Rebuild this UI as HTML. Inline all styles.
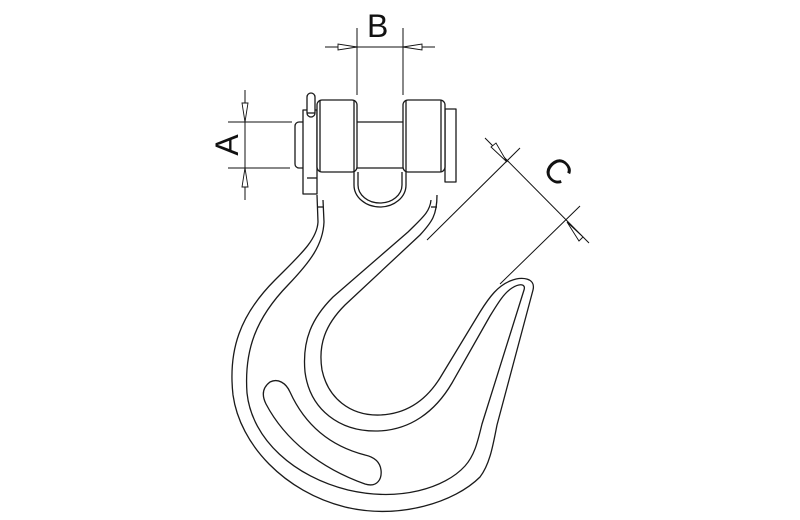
<!DOCTYPE html>
<html><head><meta charset="utf-8"><style>
html,body{margin:0;padding:0;background:#fff;width:800px;height:520px;overflow:hidden;position:relative}
svg{display:block;position:absolute;left:0;top:0}
text{font-family:"Liberation Sans",sans-serif;fill:#111}
#c{position:absolute;left:537px;top:152px;width:40px;height:40px;line-height:40px;text-align:center;font-family:"Liberation Sans",sans-serif;font-size:20px;color:#111;transform:rotate(45deg) scale(1.7)}
</style></head><body>
<svg width="800" height="520" viewBox="0 0 800 520" xmlns="http://www.w3.org/2000/svg">
<g fill="none" stroke="#1a1a1a" stroke-width="1.3" stroke-linejoin="round">
<path fill="#fff" d="M 317 195 L 318 222 C 317 240, 300 255, 275 280 C 240 315, 228 350, 233 395 C 240 445, 285 492, 345 507 C 400 520, 455 502, 480 477 C 490 464, 493 445, 497 425 L 533 290 C 536 278, 522 276, 510 281 C 498 286, 490 296, 480 312 L 440 378 C 425 402, 405 414, 380 415 C 350 416, 328 398, 322 370 C 318 345, 325 325, 345 305 L 420 235 C 432 222, 437 215, 437 195"/>
<path d="M 323 200 L 324 222 C 323 245, 310 262, 288 285 C 256 318, 244 350, 247 393 C 252 440, 295 477, 348 490 C 400 502, 445 488, 465 466 C 475 455, 478 440, 482 424 L 524 290 C 526 284, 520 283, 512 288 C 504 293, 498 303, 490 316 L 452 383 C 435 412, 410 430, 378 431 C 340 432, 310 410, 305 372 C 302 340, 312 318, 333 297 L 408 232 C 422 218, 430 212, 431 200"/>
<line x1="317" y1="207" x2="323" y2="207"/>
<line x1="431" y1="207" x2="437" y2="207"/>
<path d="M 270 382 C 262 388, 262 396, 266 404 C 285 440, 320 468, 365 484 C 378 488, 382 478, 381 470 C 380 462, 374 457, 365 455 C 330 446, 305 425, 290 392 C 286 383, 278 378, 270 382 Z"/>
<rect x="295" y="122" width="15" height="46" rx="4" fill="#fff"/>
<rect x="303" y="110" width="14" height="84" fill="#fff"/>
<rect x="307" y="93" width="8" height="24" rx="4" fill="#fff"/>
<line x1="307" y1="113" x2="315" y2="113"/>
<line x1="307" y1="178" x2="317" y2="178"/>
<rect x="445" y="109" width="11" height="73" fill="#fff"/>
<path fill="#fff" d="M 354 172 L 354 185 A 26 22 0 0 0 406 185 L 406 172"/>
<path d="M 358 172 L 358 185 A 22 18 0 0 0 402 185 L 402 172"/>
<rect x="317" y="100" width="40" height="72" rx="5" fill="#fff"/>
<rect x="403" y="100" width="42" height="72" rx="5" fill="#fff"/>
<line x1="320" y1="100" x2="320" y2="172"/>
<line x1="354" y1="100" x2="354" y2="172"/>
<line x1="406" y1="100" x2="406" y2="172"/>
<line x1="441" y1="100" x2="441" y2="172"/>
<line x1="357" y1="122" x2="403" y2="122"/>
<line x1="357" y1="168" x2="403" y2="168"/>
</g>
<g stroke="#111" stroke-width="1" fill="none">
<line x1="357" y1="28" x2="357" y2="95"/>
<line x1="403" y1="28" x2="403" y2="95"/>
<line x1="325" y1="47" x2="435" y2="47"/>
<line x1="228" y1="122" x2="292" y2="122"/>
<line x1="228" y1="168" x2="290" y2="168"/>
<line x1="245" y1="90" x2="245" y2="200"/>
<line x1="485" y1="138" x2="589" y2="243"/>
<line x1="520" y1="148" x2="427" y2="240"/>
<line x1="580" y1="206" x2="500" y2="284"/>
</g>
<g fill="#fff" stroke="#111" stroke-width="0.9">
<polygon points="357,47 338,44 338,50"/>
<polygon points="403,47 422,44 422,50"/>
<polygon points="245,122 242,103 248,103"/>
<polygon points="245,168 242,187 248,187"/>
<polygon points="507,162 491,147 496,143"/>
<polygon points="567,222 583,237 579,241"/>
</g>
<text x="367" y="37" font-size="32">B</text>
<text transform="translate(238,145) rotate(-90)" text-anchor="middle" font-size="32">A</text>
</svg>
<div id="c">C</div>
</body></html>
